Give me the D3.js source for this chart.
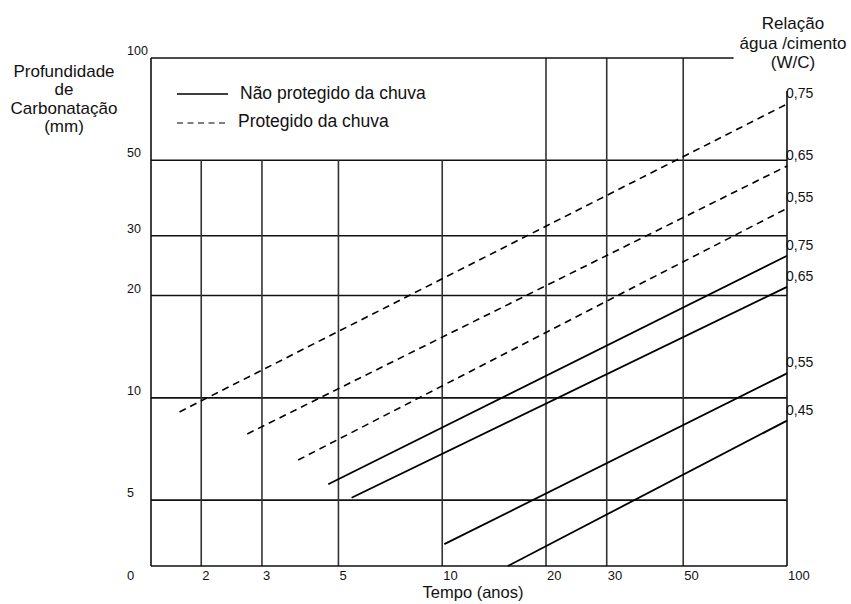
<!DOCTYPE html>
<html>
<head>
<meta charset="utf-8">
<script src="https://cdn.jsdelivr.net/npm/d3@7"></script>
<style>
  html, body { margin: 0; padding: 0; background: #fff; }
  svg { display: block; }
  text { font-family: "Liberation Sans", Arial, sans-serif; fill: #111; }
</style>
</head>
<body>
<svg id="chart" width="851" height="604"></svg>
<script>
// ---------- DATA ----------
const xTicks = [2, 3, 5, 10, 20, 30, 50, 100];          // Tempo (anos)
const xTicksTop = [20, 30, 50];                          // vertical grid lines reaching the top
const yTicks = [5, 10, 20, 30, 50, 100];                 // Profundidade (mm)
const originLabel = "0";

// Protegido da chuva (dashed)
const protWC = ["0,75", "0,65", "0,55"];
const protT0 = [1.73, 2.72, 3.82];
const protD0 = [9.09, 7.83, 6.56];
const protT1 = [100, 100, 100];
const protD1 = [73.2, 48.1, 36.1];

// Não protegido da chuva (solid)
const unprotWC = ["0,75", "0,65", "0,55", "0,45"];
const unprotT0 = [4.67, 5.46, 10.14, 15.5];
const unprotD0 = [5.57, 5.08, 3.71, 3.2];
const unprotT1 = [100, 100, 100, 100];
const unprotD1 = [26.2, 21.2, 11.8, 8.57];

const legendLabels = ["Não protegido da chuva", "Protegido da chuva"];
const yTitle = ["Profundidade", "de", "Carbonatação", "(mm)"];
const rTitle = ["Relação", "água /cimento", "(W/C)"];
const xTitle = "Tempo (anos)";

// ---------- SCALES ----------
const svg = d3.select("#chart");
const x = d3.scaleLog().domain([1.43, 100]).range([151, 787]);
const y = d3.scaleLog().domain([3.2, 100]).range([566, 58]);
const [x0, x1] = x.range();
const [yB, yT] = y.range();

const grid = svg.append("g");
// horizontal grid lines (except top)
grid.selectAll("line.h").data(yTicks.filter(d => d !== 100)).join("line")
  .attr("x1", x0).attr("x2", x1)
  .attr("y1", d => y(d)).attr("y2", d => y(d))
  .attr("stroke", "#111").attr("stroke-width", 1.6);
// vertical grid lines
grid.selectAll("line.v").data(xTicks.filter(d => d !== 100)).join("line")
  .attr("x1", d => x(d)).attr("x2", d => x(d))
  .attr("y1", d => xTicksTop.includes(d) ? yT : y(50)).attr("y2", yB)
  .attr("stroke", "#333").attr("stroke-width", 1.6);
// borders
grid.append("line").attr("x1", x0).attr("x2", x0).attr("y1", yT).attr("y2", yB)
  .attr("stroke", "#111").attr("stroke-width", 1.6);
grid.append("line").attr("x1", x0).attr("x2", x1).attr("y1", yB).attr("y2", yB)
  .attr("stroke", "#111").attr("stroke-width", 1.6);
grid.append("line").attr("x1", x0).attr("x2", x(70)).attr("y1", yT).attr("y2", yT)
  .attr("stroke", "#111").attr("stroke-width", 1.6);
grid.append("line").attr("x1", x1).attr("x2", x1).attr("y1", y(80)).attr("y2", yB)
  .attr("stroke", "#111").attr("stroke-width", 1.6);

// ---------- LINES ----------
const protLines = protWC.map((w, i) => ({ w, t0: protT0[i], d0: protD0[i], t1: protT1[i], d1: protD1[i] }));
const unprotLines = unprotWC.map((w, i) => ({ w, t0: unprotT0[i], d0: unprotD0[i], t1: unprotT1[i], d1: unprotD1[i] }));

svg.append("g").selectAll("line").data(protLines).join("line")
  .attr("x1", d => x(d.t0)).attr("y1", d => y(d.d0))
  .attr("x2", d => x(d.t1)).attr("y2", d => y(d.d1))
  .attr("stroke", "#000").attr("stroke-width", 1.6)
  .attr("stroke-dasharray", "7,5");

svg.append("g").selectAll("line").data(unprotLines).join("line")
  .attr("x1", d => x(d.t0)).attr("y1", d => y(d.d0))
  .attr("x2", d => x(d.t1)).attr("y2", d => y(d.d1))
  .attr("stroke", "#000").attr("stroke-width", 1.8);

// W/C labels
svg.append("g").selectAll("text").data(protLines.concat(unprotLines)).join("text")
  .attr("x", d => x(d.t1) - 1).attr("y", d => y(d.d1) - 6)
  .attr("font-size", 14)
  .text(d => d.w);

// ---------- AXIS LABELS ----------
svg.append("g").selectAll("text").data(xTicks).join("text")
  .attr("x", d => x(d) + 1).attr("y", 580)
  .attr("font-size", 13)
  .text(d => d);
svg.append("g").selectAll("text").data(yTicks).join("text")
  .attr("x", 127).attr("y", d => y(d) - 3)
  .attr("font-size", 12.5)
  .text(d => d);
svg.append("text").attr("x", 127).attr("y", 580).attr("font-size", 13).text(originLabel);

svg.append("text").attr("x", 473).attr("y", 598).attr("text-anchor", "middle")
  .attr("font-size", 16.5).text(xTitle);

svg.append("g").selectAll("text").data(yTitle).join("text")
  .attr("x", 64).attr("y", (d, i) => 77 + i * 18.3)
  .attr("text-anchor", "middle").attr("font-size", 17)
  .text(d => d);

svg.append("g").selectAll("text").data(rTitle).join("text")
  .attr("x", 793).attr("y", (d, i) => 29 + i * 19.5)
  .attr("text-anchor", "middle").attr("font-size", 17)
  .text(d => d);

// ---------- LEGEND ----------
const leg = svg.append("g");
leg.selectAll("line").data(legendLabels).join("line")
  .attr("x1", 177).attr("x2", 228)
  .attr("y1", (d, i) => 94 + i * 29).attr("y2", (d, i) => 94 + i * 29)
  .attr("stroke", "#000").attr("stroke-width", (d, i) => i ? 1.2 : 1.6)
  .attr("stroke-dasharray", (d, i) => i ? "6,4.5" : null);
leg.selectAll("text").data(legendLabels).join("text")
  .attr("x", (d, i) => i ? 238 : 240).attr("y", (d, i) => 99 + i * 28)
  .attr("font-size", 17.5)
  .text(d => d);
</script>
</body>
</html>
